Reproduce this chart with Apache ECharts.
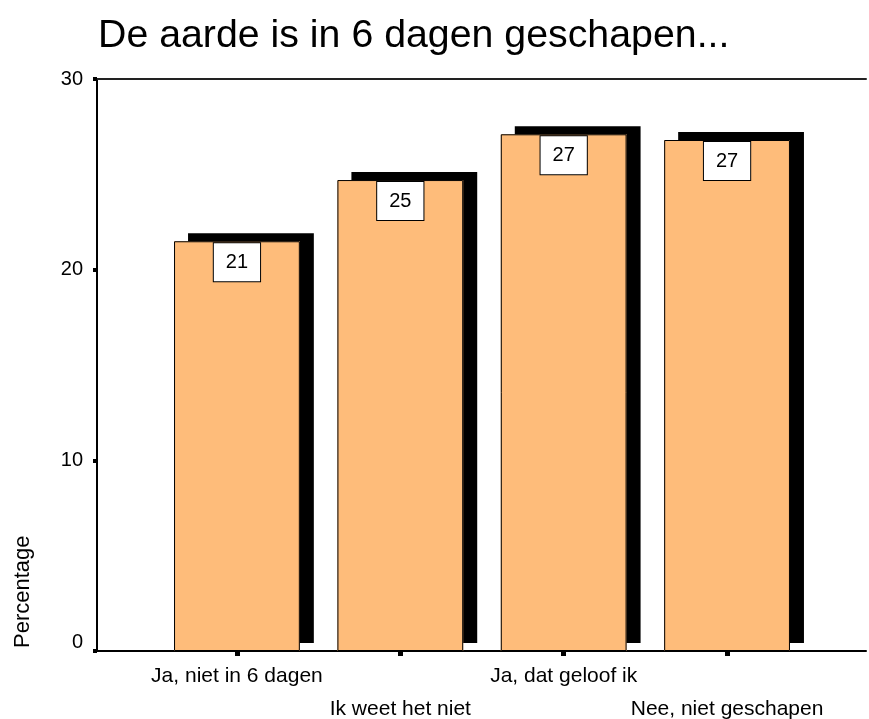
<!DOCTYPE html>
<html>
<head>
<meta charset="utf-8">
<script src="https://cdn.jsdelivr.net/npm/echarts@6/dist/echarts.min.js"></script>
<style>
  html, body { margin: 0; padding: 0; background: #fff; }
  #chart { width: 869px; height: 719px; }
</style>
</head>
<body>
<div id="chart"></div>
<script>
const titleText = "De aarde is in 6 dagen geschapen...";
const categories = ["Ja, niet in 6 dagen", "Ik weet het niet", "Ja, dat geloof ik", "Nee, niet geschapen"];
const percentages = [21.49, 24.7, 27.1, 26.8];
const yTicks = [0, 10, 20, 30];

const font = "Liberation Sans, Arial, sans-serif";
const chart = echarts.init(document.getElementById("chart"));

const option = {
  backgroundColor: "#fff",
  animation: false,
  textStyle: { fontFamily: font },
  title: {
    text: titleText,
    left: 93,
    top: 12,
    textStyle: { fontSize: 39.3, fontWeight: "normal", color: "#000", fontFamily: font },
  },
  graphic: [
    {
      type: "text",
      x: 23,
      y: 648,
      rotation: Math.PI / 2,
      style: {
        text: "Percentage",
        font: "22px " + font,
        fill: "#000",
        textAlign: "left",
        textVerticalAlign: "middle",
      },
    },
  ],
  grid: [
    { left: 97, right: 3, top: 79, bottom: 68, outerBoundsMode: "none" },
    { left: 155.25, right: 60.25, top: 79, bottom: 68, outerBoundsMode: "none" },
  ],
  xAxis: [
    {
      gridIndex: 0,
      type: "value",
      min: 0,
      max: 1,
      axisLine: { show: true, lineStyle: { color: "#000", width: 2 } },
      axisTick: { show: false },
      axisLabel: { show: false },
      splitLine: { show: false },
    },
    {
      gridIndex: 0,
      type: "value",
      position: "top",
      min: 0,
      max: 1,
      axisLine: { show: true, lineStyle: { color: "#222", width: 2 } },
      axisTick: { show: false },
      axisLabel: { show: false },
      splitLine: { show: false },
    },
    {
      gridIndex: 1,
      type: "category",
      data: categories,
      axisLine: { show: false },
      axisTick: { show: true, alignWithLabel: true, length: 5, lineStyle: { color: "#000", width: 5 } },
      axisLabel: {
        interval: 0,
        color: "#000",
        fontSize: 21,
        lineHeight: 33,
        margin: 9,
        formatter: (v, i) => (i % 2 ? "\n" + v : v),
      },
    },
  ],
  yAxis: [
    {
      gridIndex: 0,
      type: "value",
      min: yTicks[0],
      max: yTicks[yTicks.length - 1],
      interval: 10,
      axisLine: { show: true, lineStyle: { color: "#000", width: 2 } },
      axisTick: { show: true, length: 4, lineStyle: { color: "#000", width: 4 } },
      axisLabel: {
        color: "#000",
        fontSize: 20,
        lineHeight: 18,
        margin: 14,
        verticalAlignMinLabel: "bottom",
      },
      splitLine: { show: false },
    },
    {
      gridIndex: 1,
      type: "value",
      min: yTicks[0],
      max: yTicks[yTicks.length - 1],
      show: false,
    },
  ],
  series: [
    {
      // filled bars with the solid black drop shadow
      type: "bar",
      xAxisIndex: 2,
      yAxisIndex: 1,
      data: percentages,
      barWidth: "77%",
      itemStyle: {
        color: "#FEBC7A",
        shadowColor: "#000",
        shadowBlur: 0,
        shadowOffsetX: 14,
        shadowOffsetY: -8,
      },
    },
    {
      // thin outline and value box on top
      type: "bar",
      xAxisIndex: 2,
      yAxisIndex: 1,
      data: percentages,
      barWidth: "77%",
      barGap: "-100%",
      itemStyle: {
        color: "transparent",
        borderColor: "#000",
        borderWidth: 1,
      },
      label: {
        show: true,
        position: "insideTop",
        distance: 2,
        formatter: (p) => Math.round(p.value),
        color: "#000",
        fontSize: 20,
        lineHeight: 22,
        backgroundColor: "#fff",
        borderColor: "#000",
        borderWidth: 1,
        padding: [8, 12],
      },
    },
  ],
};

chart.setOption(option);
</script>
</body>
</html>
